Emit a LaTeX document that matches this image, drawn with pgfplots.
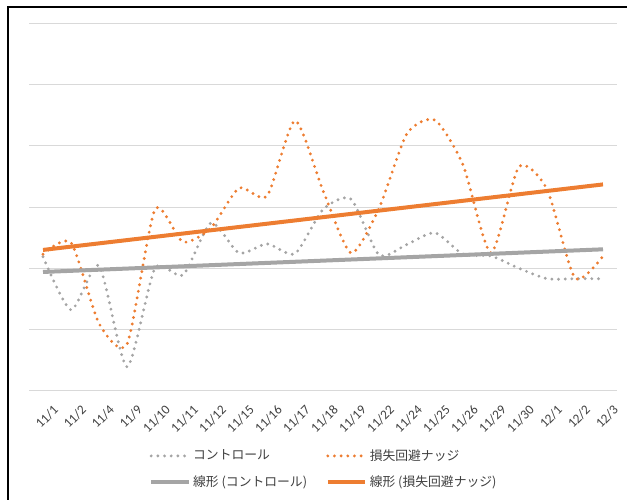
\documentclass[border=0pt]{standalone}
\usepackage{fontspec}
\setmainfont{Carlito}
\newfontfamily\cjk{Noto Sans CJK JP}
\usepackage{pgfplots}
\usepackage{pgfplotstable}
\pgfplotsset{compat=1.18}

\definecolor{ctrl}{HTML}{A5A5A5}
\definecolor{nudge}{HTML}{ED7D31}
\definecolor{gridc}{HTML}{D9D9D9}
\definecolor{txt}{HTML}{404040}

% x = category index
\pgfplotstableread{
x  ctrl  nudge
0  2.19  2.23
1  1.32  2.42
2  2.04  1.10
3  0.39  0.76
4  2.00  2.96
5  1.89  2.43
6  2.74  2.66
7  2.25  3.31
8  2.40  3.18
9  2.24  4.41
10 2.96  3.27
11 3.13  2.25
12 2.22  2.98
13 2.39  4.20
14 2.58  4.42
15 2.23  3.69
16 2.20  2.25
17 2.00  3.66
18 1.83  3.29
19 1.83  1.84
20 1.83  2.20
}\datatable

\newcommand{\tl}[1]{\mbox{#1}}

\begin{document}
\begin{tikzpicture}
\useasboundingbox (0,0) rectangle (470.25pt,374.25pt);
\draw[line width=1.5pt] (6.2pt,-5pt) |- (480pt,369.2pt);
\begin{axis}[
    at={(21.75pt,81.2pt)}, anchor=south west,
    scale only axis, width=441pt, height=275.5pt,
    xmin=-0.5, xmax=20.5, ymin=0, ymax=6,
    xtick={0,...,20},
    xticklabels={\tl{11/1},\tl{11/2},\tl{11/4},\tl{11/9},\tl{11/10},\tl{11/11},\tl{11/12},\tl{11/15},\tl{11/16},\tl{11/17},\tl{11/18},\tl{11/19},\tl{11/22},\tl{11/24},\tl{11/25},\tl{11/26},\tl{11/29},\tl{11/30},\tl{12/1},\tl{12/2},\tl{12/3}},
    xticklabel style={font=\fontsize{10}{12}\selectfont, text=txt, rotate=45, anchor=north east, inner sep=0pt, yshift=-12pt, xshift=-2pt},
    ytick={0,...,6}, yticklabels={,,,,,,},
    ymajorgrids, major grid style={gridc, line width=0.75pt},
    axis line style={draw=none}, tick style={draw=none},
    legend columns=2,
    legend style={at={(0.502,-0.213)}, anchor=center, draw=none,
        font=\cjk\fontsize{9.6}{11}\selectfont, text=txt,
        /tikz/every even column/.append style={column sep=12pt},
        row sep=6pt},
    legend cell align=left,
    legend image code/.code={\draw[#1] (0pt,0pt) -- (28pt,0pt);},
]
\addplot[ctrl, smooth, tension=0.4, line width=2.4pt, line cap=round, dash pattern=on 0pt off 5pt]
    table[x=x, y=ctrl] {\datatable};
\addlegendentry{コントロール}
\addplot[nudge, smooth, tension=0.4, line width=2.4pt, line cap=round, dash pattern=on 0pt off 5pt]
    table[x=x, y=nudge] {\datatable};
\addlegendentry{損失回避ナッジ}
\addplot[ctrl, line width=3pt] coordinates {(0,1.94) (20,2.31)};
\addlegendentry{線形 (コントロール)}
\addplot[nudge, line width=3pt] coordinates {(0,2.30) (20,3.37)};
\addlegendentry{線形 (損失回避ナッジ)}
\end{axis}
\end{tikzpicture}
\end{document}
